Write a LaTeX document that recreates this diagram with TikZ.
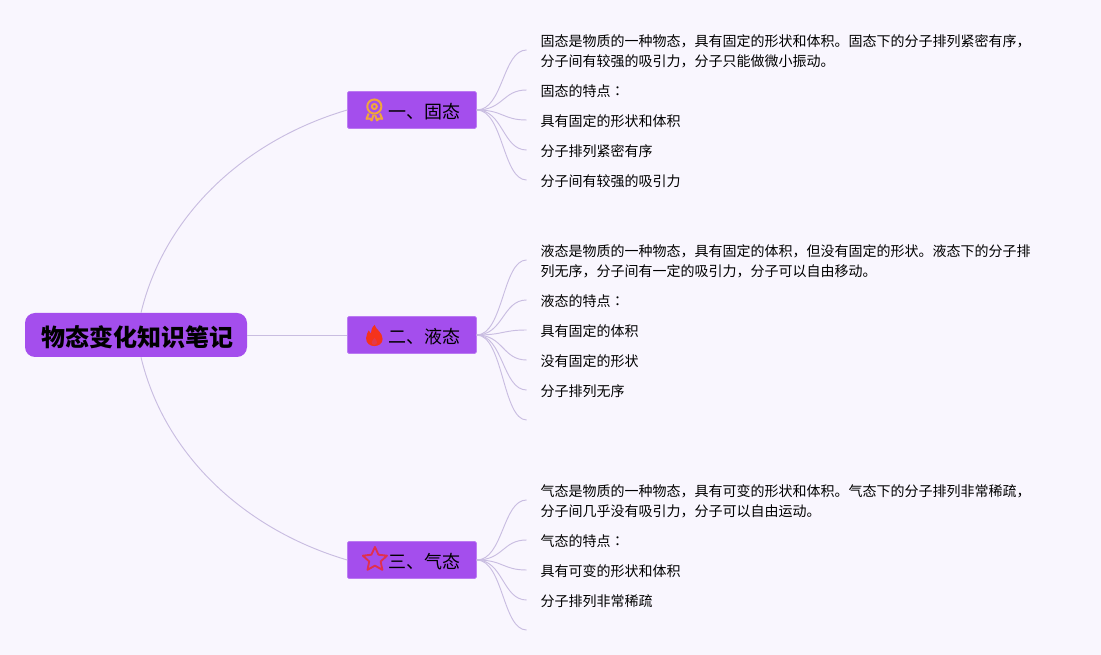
\documentclass[tikz,border=0pt]{standalone}
\usepackage{fontspec}
\setmainfont{Noto Sans CJK SC}
\newfontfamily\colonfont{Noto Sans CJK TC}
\usepackage{xcolor}
\usetikzlibrary{positioning,shapes.geometric}
\definecolor{paper}{HTML}{F9F6FE}
\definecolor{violet}{HTML}{A44EED}
\definecolor{linkline}{HTML}{C9BDE1}
\definecolor{medalc}{HTML}{F0A63C}
\definecolor{flamec}{HTML}{F5331C}
\definecolor{starc}{HTML}{E0304F}

\begin{document}
\begin{tikzpicture}[node distance=37.5pt]
  \tikzstyle{rootbox}=[fill=violet,rounded corners=7.5pt,minimum width=166.5pt,minimum height=33pt,font=\fontsize{18pt}{22pt}\selectfont\bfseries,inner sep=0pt,text height=16.6pt,text depth=0pt]
  \tikzstyle{branch}=[fill=violet,draw=violet!75!white,line width=0.4pt,rounded corners=1.2pt,minimum width=97pt,minimum height=27.75pt,font=\fontsize{13.5pt}{16pt}\selectfont,inner sep=0pt,outer sep=0pt,text height=12.5pt,text depth=0pt]
  \tikzstyle{leaf}=[align=left,inner xsep=10.5pt,inner ysep=0pt,outer sep=0pt,minimum height=22.5pt,font=\fontsize{10.5pt}{15pt}\selectfont]
  \tikzstyle{twolines}=[minimum height=37.5pt]
  \tikzstyle{nextleaf}=[below=0pt of #1.south west,anchor=north west]
  \tikzstyle{link}=[linkline,line width=0.7pt]
  \fill[paper] (0,0) rectangle (825.75pt,-491.25pt);
  \useasboundingbox (0,0) rectangle (825.75pt,-491.25pt);
  \node[rootbox] (root) at (102pt,-251.25pt) {\hspace*{1.8pt}物态变化知识笔记};
  \node[branch,right=75pt of root,yshift=168.75pt] (solid) {\hspace*{19.5pt}一、固态};
  \node[branch,right=75pt of root] (liquid) {\hspace*{19.5pt}二、液态};
  \node[branch,right=75pt of root,yshift=-168.75pt] (gas) {\hspace*{19.5pt}三、气态};

  \node[leaf,twolines,right=of solid,yshift=43.9pt] (solida) {固态是物质的一种物态，具有固定的形状和体积。固态下的分子排列紧密有序，\\分子间有较强的吸引力，分子只能做微小振动。};
  \node[leaf,nextleaf=solida] (solidb) {固态的特点{\colonfont ：}};
  \node[leaf,nextleaf=solidb] (solidc) {具有固定的形状和体积};
  \node[leaf,nextleaf=solidc] (solidd) {分子排列紧密有序};
  \node[leaf,nextleaf=solidd] (solide) {分子间有较强的吸引力};

  \node[leaf,twolines,right=of liquid,yshift=55.15pt] (liquida) {液态是物质的一种物态，具有固定的体积，但没有固定的形状。液态下的分子排\\列无序，分子间有一定的吸引力，分子可以自由移动。};
  \node[leaf,nextleaf=liquida] (liquidb) {液态的特点{\colonfont ：}};
  \node[leaf,nextleaf=liquidb] (liquidc) {具有固定的体积};
  \node[leaf,nextleaf=liquidc] (liquidd) {没有固定的形状};
  \node[leaf,nextleaf=liquidd] (liquide) {分子排列无序};
  \node[leaf,nextleaf=liquide] (liquidf) {};

  \node[leaf,twolines,right=of gas,yshift=43.9pt] (gasa) {气态是物质的一种物态，具有可变的形状和体积。气态下的分子排列非常稀疏，\\分子间几乎没有吸引力，分子可以自由运动。};
  \node[leaf,nextleaf=gasa] (gasb) {气态的特点{\colonfont ：}};
  \node[leaf,nextleaf=gasb] (gasc) {具有可变的形状和体积};
  \node[leaf,nextleaf=gasc] (gasd) {分子排列非常稀疏};
  \node[leaf,nextleaf=gasd] (gase) {};

  \draw[link] ([xshift=3.75pt]root.north) .. controls +(18pt,75pt) and +(-75pt,-22pt) .. (solid.west);
  \draw[link] (root.east) -- (liquid.west);
  \draw[link] ([xshift=3.75pt]root.south) .. controls +(18pt,-75pt) and +(-75pt,22pt) .. (gas.west);
  \foreach \a/\b in {solid/solida,solid/solidb,solid/solidc,solid/solidd,solid/solide,
    liquid/liquida,liquid/liquidb,liquid/liquidc,liquid/liquidd,liquid/liquide,liquid/liquidf,
    gas/gasa,gas/gasb,gas/gasc,gas/gasd,gas/gase}
    \draw[link] (\a.east) .. controls +(20pt,0pt) and +(-18pt,0pt) .. ([yshift=1.1pt]\b.west);

  % icons
  \begin{scope}[shift={(solid.center)},xshift=-28.2pt,medalc,line width=1.5pt,line join=round]
    \draw (0,2.6pt) circle (5.3pt);
    \draw (0,2.6pt) circle (1.9pt);
    \draw (-4.2pt,-2.6pt) -- (-5.9pt,-6.6pt) -- (-3.4pt,-6.4pt) -- (-2pt,-7.8pt) -- (-0.6pt,-3.6pt);
    \draw (4.2pt,-2.6pt) -- (5.9pt,-6.6pt) -- (3.4pt,-6.4pt) -- (2pt,-7.8pt) -- (0.6pt,-3.6pt);
  \end{scope}
  \fill[flamec,shift={(liquid.center)},xshift=-28.2pt,yshift=-0.4pt]
    (0.2pt,8pt) .. controls (1pt,4.6pt) and (6.2pt,2.4pt) .. (6.2pt,-2.6pt)
    .. controls (6.2pt,-6pt) and (3.2pt,-7.9pt) .. (0pt,-7.9pt)
    .. controls (-3.4pt,-7.9pt) and (-6.2pt,-5.8pt) .. (-6.2pt,-2pt)
    .. controls (-6.2pt,0.6pt) and (-4.8pt,2.4pt) .. (-4.2pt,3.8pt)
    .. controls (-3.8pt,2.8pt) and (-3.4pt,2pt) .. (-2.6pt,1.4pt)
    .. controls (-2.8pt,4pt) and (-1.4pt,6.6pt) .. (0.2pt,8pt) -- cycle;
  \fill[violet!22!flamec,shift={(liquid.center)},xshift=-28.2pt,yshift=-0.4pt]
    (0.2pt,-1.6pt) .. controls (1pt,-3pt) and (2pt,-3.8pt) .. (2pt,-5.2pt)
    .. controls (2pt,-6.4pt) and (1pt,-7pt) .. (0pt,-7pt)
    .. controls (-1.2pt,-7pt) and (-2pt,-6.4pt) .. (-2pt,-5.2pt)
    .. controls (-2pt,-3.8pt) and (-0.6pt,-3pt) .. (0.2pt,-1.6pt) -- cycle;
  \node[star,star points=5,star point ratio=2.1,draw=starc,line width=1.4pt,line join=round,fill=none,minimum size=19pt,inner sep=0pt] (gasstar) at ([xshift=-27.75pt,yshift=0.3pt]gas.center) {};
\end{tikzpicture}
\end{document}
